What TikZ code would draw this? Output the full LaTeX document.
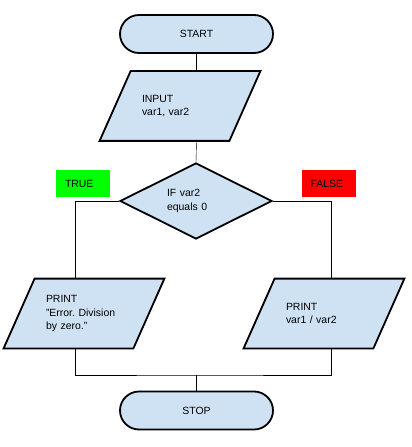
\documentclass[tikz,border=0pt]{standalone}
\usepackage{fontspec}
\setmainfont{Liberation Sans}
\frenchspacing
\usepackage{tikz}
\usetikzlibrary{shapes.geometric, backgrounds}
\usepackage{xcolor}

\definecolor{boxblue}{HTML}{CFE2F3}
\definecolor{truegreen}{HTML}{00FF00}
\definecolor{falsered}{HTML}{FF0000}

\tikzset{
  every node/.style={font=\fontsize{10.5}{13.5}\selectfont},
  terminal/.style={draw, fill=boxblue, rounded corners=19bp, minimum width=153bp, minimum height=38bp},
  io/.style={minimum width=128bp, minimum height=68bp, text width=76bp, align=left, inner sep=0pt},
  decision/.style={draw, fill=boxblue, diamond, aspect=2, minimum width=152bp, minimum height=76bp,
    text width=58bp, align=left, inner sep=0pt},
  flag/.style={minimum height=27bp, text width=36bp, align=left, inner xsep=9bp, inner ysep=0pt},
}

\begin{document}
\begin{tikzpicture}[x=1bp, y=-1bp, line width=1.8bp]
            \useasboundingbox (0,0) rectangle (411,447);

            \node[terminal] (start) at (196.5,34) {START};
            \node[io] (input) at (180,106) {INPUT\\var1, var2};
            \node[decision] (cond) at (196,201) {IF var2\\equals 0};
            \node[io] (errprint) at (84,313.5) {PRINT\\"Error. Division\\by zero."};
            \node[io] (divprint) at (324,313.5) {PRINT\\var1 / var2};
            \node[terminal] (stop) at (196.5,410.5) {STOP};

            \node[flag, fill=truegreen] (truelabel) at (83,183.5) {TRUE};
            \node[flag, fill=falsered] (falselabel) at (328.5,183.5) {FALSE};

            % slanted input/output boxes behind their text
            \begin{pgfonlayer}{background}
            \foreach \n in {input, errprint, divprint}
                \draw[line width=1.8bp, fill=boxblue] ([xshift=15.5bp]\n.north west) -- ([xshift=15.5bp]\n.north east)
                    -- ([xshift=-15.5bp]\n.south east) -- ([xshift=-15.5bp]\n.south west) -- cycle;
            \end{pgfonlayer}

            \coordinate (merge) at (196.5,375);

            \draw (start.south) -- (start.south |- input.north);
            \draw (start.south |- input.south) -- (cond.north);
            \draw (cond.west) -| ([xshift=-9bp]errprint.north);
            \draw (cond.east) -| ([xshift=7bp]divprint.north);
            \draw ([xshift=-9bp]errprint.south) |- (merge) -| ([xshift=7bp]divprint.south);
            \draw (merge) -- (stop.north);
        \end{tikzpicture}
\end{document}
